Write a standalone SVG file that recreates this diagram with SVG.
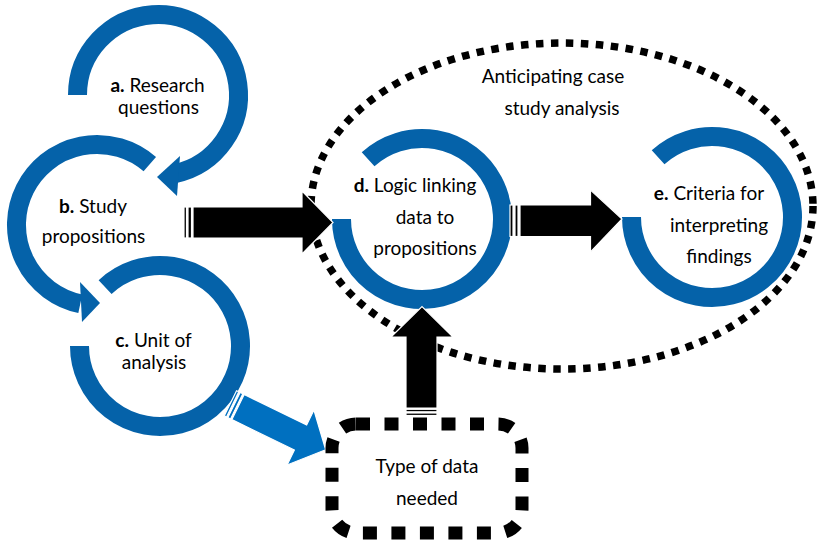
<svg xmlns="http://www.w3.org/2000/svg" width="817" height="544" viewBox="0 0 817 544">
<style>
.ring{fill:none;stroke:#0562A9;stroke-width:19}
.rhead{fill:#0562A9}
.arr{fill:#000;stroke:#fff;stroke-width:1.2}
.barr{fill:#0070C0;stroke:#fff;stroke-width:1.2}
text{font-family:Lato,"Liberation Sans",sans-serif;font-size:19px;fill:#000;text-anchor:middle}
.b{font-weight:bold}
</style>
<rect width="817" height="544" fill="#fff"/>
<g id="group-analysis">
<ellipse cx="562" cy="206" rx="251" ry="163" fill="none" stroke="#000" stroke-width="7.5" stroke-dasharray="7.5 7.5"/>
<text x="553" y="83">Anticipating case</text>
<text x="562" y="115">study analysis</text>
</g>
<g id="node-a">
<path class="ring" d="M77.5,95 A80.5,80.5 0 1 1 174.7,173.7"/>
<polygon class="rhead" points="180,156 177,196 157,177"/>
<text x="157.5" y="92"><tspan class="b">a.</tspan> Research</text>
<text x="158.5" y="114">questions</text>
</g>
<g id="node-b">
<path class="ring" d="M149.8,164.2 A80.5,80.5 0 1 0 80.3,303.7"/>
<polygon class="rhead" points="80,282 82,322 100,303"/>
<text x="93" y="213"><tspan class="b">b.</tspan> Study</text>
<text x="93.5" y="243">propositions</text>
</g>
<g id="node-c">
<path class="ring" d="M79.5,346 A80.5,80.5 0 1 0 105.1,287.1"/>
<text x="153.5" y="347"><tspan class="b">c.</tspan> Unit of</text>
<text x="154" y="369">analysis</text>
</g>
<g id="node-d">
<path class="ring" d="M341.5,219 A80.5,80.5 0 1 0 368.1,159.2"/>
<text x="415" y="192"><tspan class="b">d.</tspan> Logic linking</text>
<text x="425" y="223.5">data to</text>
<text x="425" y="255">propositions</text>
</g>
<g id="node-e">
<path class="ring" d="M631.5,217 A80.5,80.5 0 1 0 658.1,157.2"/>
<text x="709" y="200"><tspan class="b">e.</tspan> Criteria for</text>
<text x="719" y="231.7">interpreting</text>
<text x="719" y="263">findings</text>
</g>
<g id="connectors">
<g id="b-to-d">
<rect class="arr" x="184" y="207" width="2.5" height="31"/>
<rect class="arr" x="188" y="207" width="3.5" height="31"/>
<path class="arr" d="M193,207 H302 V191 L333,222.5 L302,254 V238 H193 Z"/>
</g>
<g id="d-to-e">
<rect class="arr" x="510" y="205" width="3" height="31.5"/>
<rect class="arr" x="515" y="205" width="3" height="31.5"/>
<path class="arr" d="M520,205 H590.5 V190 L622,219 L590.5,252 V236.5 H520 Z"/>
</g>
<g id="type-to-d">
<rect class="arr" x="406" y="413" width="31" height="2.5"/>
<rect class="arr" x="406" y="409.3" width="31" height="2.5"/>
<path class="arr" d="M406,408 V337 H391 L422,306.5 L453,337 H437 V408 Z"/>
</g>
<g id="c-to-type" transform="translate(230.4,403.3) rotate(26)">
<rect class="barr" x="0" y="-14" width="2.5" height="28"/>
<rect class="barr" x="4" y="-14" width="3" height="28"/>
<path class="barr" d="M8.5,-14 H78 V-30.6 L106,0 L78,30.6 V14 H8.5 Z"/>
</g>
</g>
<g id="node-type">
<rect x="332" y="424" width="190" height="109" rx="24" fill="none" stroke="#000" stroke-width="13" stroke-dasharray="14 14.5"/>
<text x="427" y="473">Type of data</text>
<text x="427" y="505">needed</text>
</g>
</svg>
